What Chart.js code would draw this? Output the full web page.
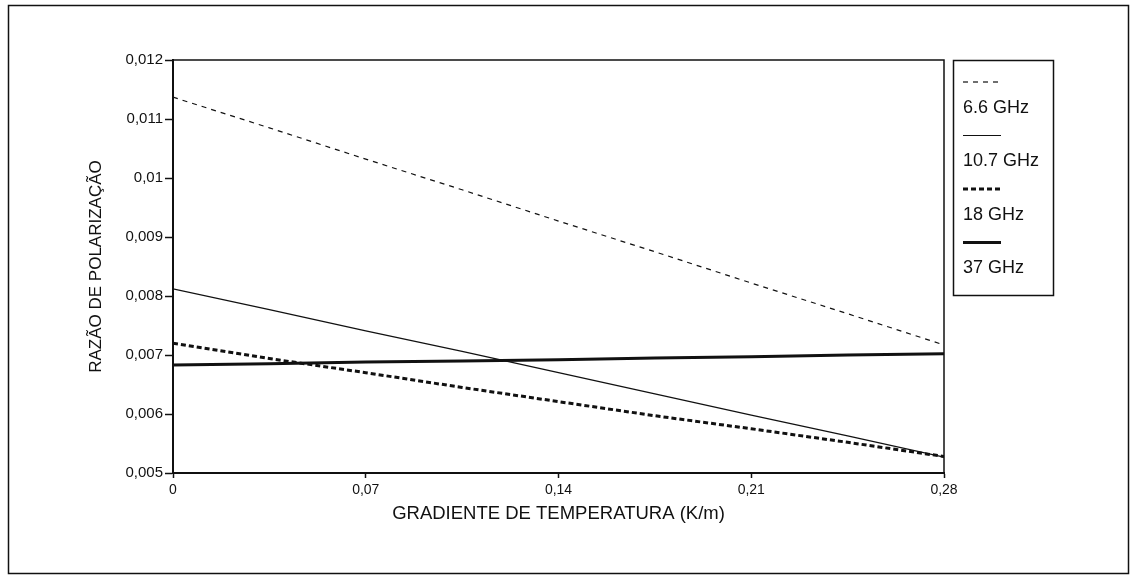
<!DOCTYPE html>
<html lang="pt">
<head>
    <meta charset="UTF-8">
    <title>Razão de polarização x gradiente de temperatura</title>
    <style>
        body {
            margin: 0;
            padding: 0;
            background: #fff;
        }

        #wrap {
            position: relative;
            width: 1131px;
            height: 575px;
        }
    </style>
    <script src="https://cdn.jsdelivr.net/npm/chart.js"></script>
</head>
<body>
    <div id="wrap">
        <canvas id="chart"></canvas>
    </div>

    <script>
        // Data
        const gradient = [0, 0.035, 0.07, 0.105, 0.14, 0.175, 0.21, 0.245, 0.28];
        const ghz66 = [0.01137, 0.01085, 0.01032, 0.00980, 0.00927, 0.00875, 0.00822, 0.00770, 0.00717];
        const ghz107 = [0.00812, 0.00777, 0.00741, 0.00706, 0.00670, 0.00634, 0.00598, 0.00563, 0.00527];
        const ghz18 = [0.00720, 0.00694, 0.00670, 0.00645, 0.00621, 0.00597, 0.00575, 0.00552, 0.00528];
        const ghz37 = [0.00683, 0.00685, 0.00688, 0.00690, 0.00692, 0.00695, 0.00697, 0.00700, 0.00702];
        const seriesNames = ['6.6 GHz', '10.7 GHz', '18 GHz', '37 GHz'];
        const xTicks = [0, 0.07, 0.14, 0.21, 0.28];

        const ink = '#111';
        const font = 'Arial, "Liberation Sans", sans-serif';

        function pts(ys) {
            return gradient.map((x, i) => ({ x: x, y: ys[i] }));
        }

        // "0,010" -> "0,01"
        function ptNumber(v, digits) {
            let s = v.toFixed(digits);
            if (s.indexOf('.') >= 0) s = s.replace(/0+$/, '').replace(/\.$/, '');
            return s.replace('.', ',');
        }

        // outer frame, plot box and the stacked legend
        const framePlugin = {
            id: 'frame',
            afterDraw(chart) {
                const ctx = chart.ctx;
                const a = chart.chartArea;
                ctx.save();
                ctx.strokeStyle = ink;
                ctx.lineWidth = 1.5;
                ctx.strokeRect(8.5, 5.5, 1120, 568);
                ctx.strokeRect(a.left, a.top, a.right - a.left, a.bottom - a.top);

                // legend box
                const lx = 953, ly = 60, lw = 100, lh = 235;
                ctx.strokeRect(lx + 0.5, ly + 0.5, lw, lh);
                ctx.font = '18px ' + font;
                ctx.fillStyle = ink;
                ctx.textBaseline = 'middle';
                chart.data.datasets.forEach((ds, i) => {
                    const y = ly + 22 + i * 53.5;
                    ctx.beginPath();
                    ctx.setLineDash(ds.borderDash || []);
                    ctx.lineWidth = ds.borderWidth;
                    ctx.moveTo(lx + 10, y);
                    ctx.lineTo(lx + 48, y);
                    ctx.stroke();
                    ctx.setLineDash([]);
                    ctx.fillText(ds.label, lx + 10, y + 26);
                });
                ctx.restore();
            }
        };

        new Chart(document.getElementById('chart'), {
            type: 'line',
            data: {
                datasets: [
                    { label: seriesNames[0], data: pts(ghz66), borderWidth: 1.2, borderDash: [5, 5] },
                    { label: seriesNames[1], data: pts(ghz107), borderWidth: 1.2 },
                    { label: seriesNames[2], data: pts(ghz18), borderWidth: 3, borderDash: [5, 3] },
                    { label: seriesNames[3], data: pts(ghz37), borderWidth: 3 }
                ].map(d => Object.assign({ borderColor: ink, pointRadius: 0, tension: 0, fill: false }, d))
            },
            options: {
                responsive: true,
                maintainAspectRatio: false,
                animation: false,
                layout: { padding: { left: 0, top: 60, right: 187, bottom: 0 } },
                plugins: {
                    legend: { display: false },
                    tooltip: { enabled: false }
                },
                scales: {
                    x: {
                        type: 'linear',
                        min: 0,
                        max: 0.28,
                        afterFit(scale) { scale.height = 102; },
                        afterBuildTicks(scale) {
                            scale.ticks = xTicks.map(v => ({ value: v }));
                        },
                        grid: { drawOnChartArea: false, tickLength: 5, color: ink, tickWidth: 1.5 },
                        border: { color: ink, width: 2 },
                        ticks: {
                            padding: 4,
                            color: ink,
                            font: { family: font, size: 14 },
                            callback: v => ptNumber(v, 2)
                        },
                        title: {
                            display: true,
                            text: 'GRADIENTE DE TEMPERATURA (K/m)',
                            color: ink,
                            font: { family: font, size: 18.5 },
                            padding: { top: 0, bottom: 50 }
                        }
                    },
                    y: {
                        min: 0.005,
                        max: 0.012,
                        afterFit(scale) { scale.width = 173; },
                        grid: { drawOnChartArea: false, tickLength: 8, color: ink, tickWidth: 1.5 },
                        border: { color: ink, width: 2 },
                        ticks: {
                            stepSize: 0.001,
                            padding: 2,
                            color: ink,
                            font: { family: font, size: 15 },
                            callback: v => ptNumber(v, 3)
                        },
                        title: {
                            display: true,
                            text: 'RAZÃO DE POLARIZAÇÃO',
                            color: ink,
                            font: { family: font, size: 17 },
                            padding: { top: 86, bottom: 0 }
                        }
                    }
                }
            },
            plugins: [framePlugin]
        });
    </script>
</body>
</html>
